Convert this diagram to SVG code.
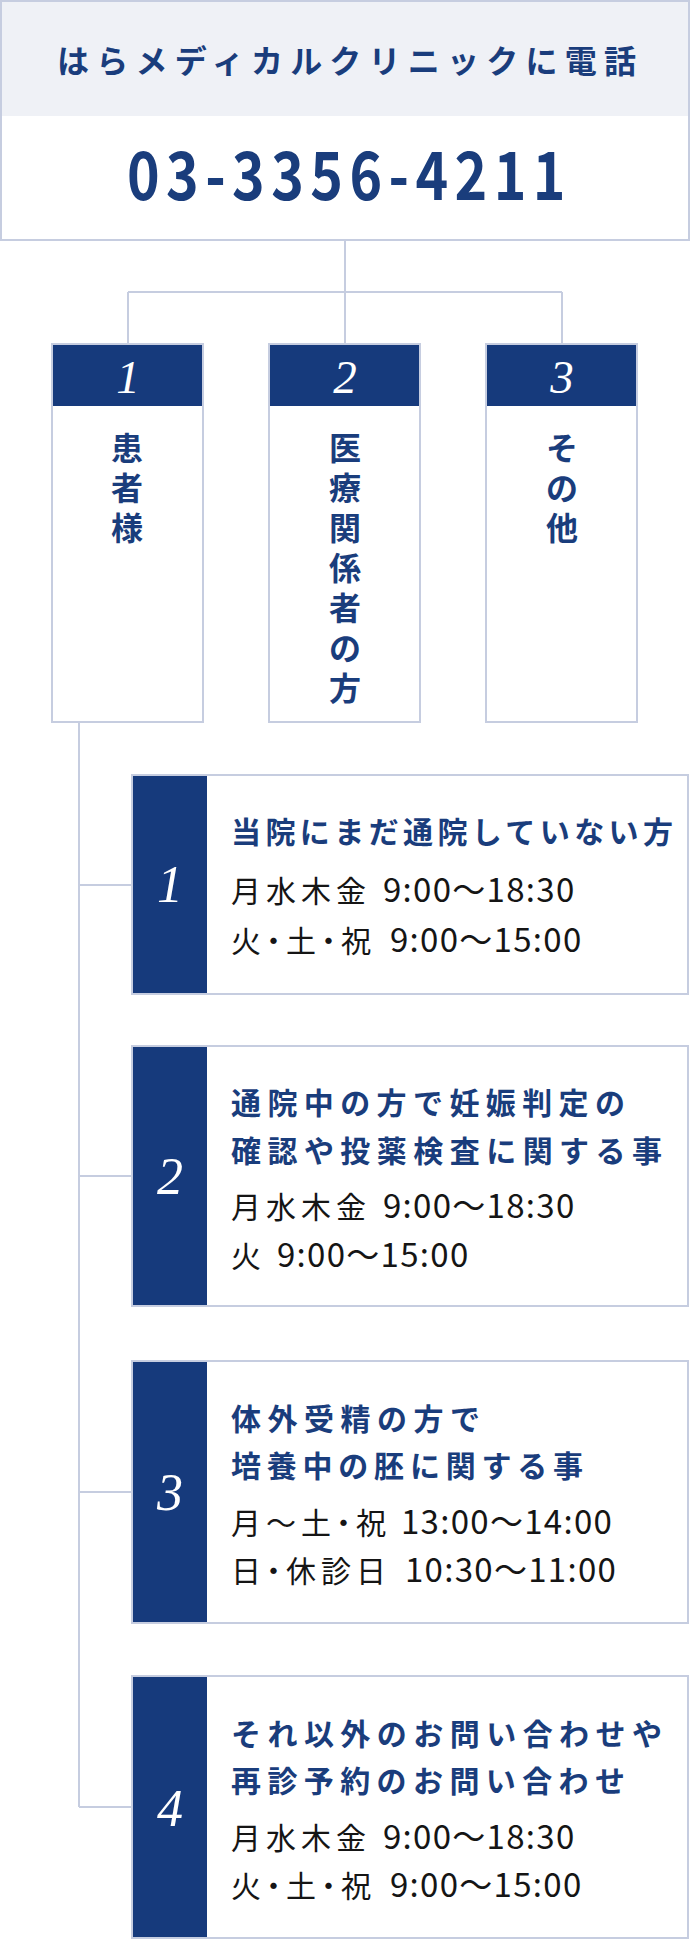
<svg xmlns="http://www.w3.org/2000/svg" width="690" height="1941" viewBox="0 0 690 1941">
<style>
.bx{fill:#fff;stroke:#c6cde0;stroke-width:2}
.nv{fill:#163a7c}
.ln{fill:none;stroke:#c6cde0;stroke-width:2}
.num{font-family:"Liberation Serif",serif;font-style:italic;fill:#fff;text-anchor:middle}
.ttl{font-family:"Noto Sans CJK JP","Noto Sans",sans-serif;font-weight:700;fill:#1a3d7c;font-size:30px}
.tm{font-family:"Noto Sans CJK JP","Noto Sans",sans-serif;font-weight:400;fill:#151515;font-size:30px}
.jp{letter-spacing:5px;font-feature-settings:"palt"}
.dg{font-size:33px;letter-spacing:1.3px}
.vt{font-family:"Noto Sans CJK JP","Noto Sans",sans-serif;font-weight:700;fill:#1a3d7c;font-size:32px;text-anchor:middle}
</style>
<rect width="690" height="1941" fill="#fff"/>
<g id="connectors">
<path class="ln" d="M345 240V292M128 292H562M128 292V344M345 292V344M562 292V344"/>
<path class="ln" d="M79 722V1807M79 885H132M79 1176H132M79 1492H132M79 1807H132"/>
</g>
<g id="header">
<rect class="bx" x="1" y="1" width="688" height="239"/>
<rect x="2" y="2" width="686" height="114" fill="#eff1f6"/>
<text x="57" y="73" font-family="'Noto Sans CJK JP','Noto Sans',sans-serif" font-weight="700" font-size="32" fill="#1a3d7c" textLength="579" lengthAdjust="spacing">はらメディカルクリニックに電話</text>
<text transform="translate(127 200) scale(0.84 1)" x="0" y="0" font-family="'Noto Sans CJK JP','Noto Sans',sans-serif" font-weight="700" font-size="66" fill="#1a3d7c" textLength="522" lengthAdjust="spacing">03-3356-4211</text>
</g>
<g id="cat1">
<rect class="bx" x="52" y="344" width="151" height="378"/>
<rect class="nv" x="53" y="345" width="149" height="61"/>
<text class="num" x="128" y="393" font-size="47">1</text>
<text class="vt"><tspan x="127" y="460">患</tspan><tspan x="127" y="500">者</tspan><tspan x="127" y="540">様</tspan></text>
</g>
<g id="cat2">
<rect class="bx" x="269" y="344" width="151" height="378"/>
<rect class="nv" x="270" y="345" width="149" height="61"/>
<text class="num" x="345" y="393" font-size="47">2</text>
<text class="vt"><tspan x="345" y="460">医</tspan><tspan x="345" y="500">療</tspan><tspan x="345" y="540">関</tspan><tspan x="345" y="580">係</tspan><tspan x="345" y="620">者</tspan><tspan x="345" y="660">の</tspan><tspan x="345" y="700">方</tspan></text>
</g>
<g id="cat3">
<rect class="bx" x="486" y="344" width="151" height="378"/>
<rect class="nv" x="487" y="345" width="149" height="61"/>
<text class="num" x="562" y="393" font-size="47">3</text>
<text class="vt"><tspan x="562" y="460">そ</tspan><tspan x="562" y="500">の</tspan><tspan x="562" y="540">他</tspan></text>
</g>
<g id="item1">
<rect class="bx" x="132" y="775" width="556" height="219"/>
<rect class="nv" x="133" y="776" width="74" height="217"/>
<text class="num" x="170" y="902" font-size="52">1</text>
<text class="ttl" x="231" y="843" textLength="442" lengthAdjust="spacing">当院にまだ通院していない方</text>
<text class="tm" y="902"><tspan class="jp" x="231">月水木金</tspan><tspan class="dg" x="383">9:00〜18:30</tspan></text>
<text class="tm" y="952"><tspan class="jp" x="231">火・土・祝</tspan><tspan class="dg" x="390">9:00〜15:00</tspan></text>
</g>
<g id="item2">
<rect class="bx" x="132" y="1046" width="556" height="260"/>
<rect class="nv" x="133" y="1047" width="74" height="258"/>
<text class="num" x="170" y="1194" font-size="52">2</text>
<text class="ttl" x="231" y="1114" textLength="394" lengthAdjust="spacing">通院中の方で妊娠判定の</text>
<text class="ttl" x="231" y="1162" textLength="431" lengthAdjust="spacing">確認や投薬検査に関する事</text>
<text class="tm" y="1218"><tspan class="jp" x="231">月水木金</tspan><tspan class="dg" x="383">9:00〜18:30</tspan></text>
<text class="tm" y="1267"><tspan class="jp" x="231">火</tspan><tspan class="dg" x="277">9:00〜15:00</tspan></text>
</g>
<g id="item3">
<rect class="bx" x="132" y="1361" width="556" height="262"/>
<rect class="nv" x="133" y="1362" width="74" height="260"/>
<text class="num" x="170" y="1510" font-size="52">3</text>
<text class="ttl" x="231" y="1430" textLength="249" lengthAdjust="spacing">体外受精の方で</text>
<text class="ttl" x="231" y="1477" textLength="352" lengthAdjust="spacing">培養中の胚に関する事</text>
<text class="tm" y="1534"><tspan class="jp" x="231">月〜土・祝</tspan><tspan class="dg" x="401">13:00〜14:00</tspan></text>
<text class="tm" y="1582"><tspan class="jp" x="231">日・休診日</tspan><tspan class="dg" x="405">10:30〜11:00</tspan></text>
</g>
<g id="item4">
<rect class="bx" x="132" y="1676" width="556" height="262"/>
<rect class="nv" x="133" y="1677" width="74" height="260"/>
<text class="num" x="170" y="1826" font-size="52">4</text>
<text class="ttl" x="231" y="1745" textLength="431" lengthAdjust="spacing">それ以外のお問い合わせや</text>
<text class="ttl" x="231" y="1792" textLength="394" lengthAdjust="spacing">再診予約のお問い合わせ</text>
<text class="tm" y="1849"><tspan class="jp" x="231">月水木金</tspan><tspan class="dg" x="383">9:00〜18:30</tspan></text>
<text class="tm" y="1897"><tspan class="jp" x="231">火・土・祝</tspan><tspan class="dg" x="390">9:00〜15:00</tspan></text>
</g>
</svg>
